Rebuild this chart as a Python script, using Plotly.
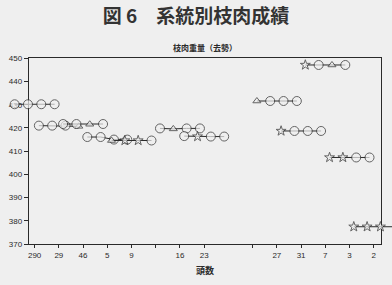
import plotly.graph_objects as go

# ---- data ----
x_labels = ["290", "29", "46", "5", "9", "", "16", "23", None, "", "27", "31", "7", "3", "2"]
group_labels = ["290", "29", "46", "5", "9", "16", "23", "27", "31", "7", "3", "2"]
group_values = [
    [430.2, 430.2, 430.2, 430.2],
    [421.0, 421.0, 421.0, 420.7],
    [421.7, 421.7, 421.6, 421.7],
    [416.1, 416.1, 415.0, 415.0],
    [414.6, 414.6, 414.6, 414.6],
    [419.8, 419.6, 419.8, 419.8],
    [416.5, 416.3, 416.3, 416.3],
    [431.6, 431.6, 431.6, 431.6],
    [418.7, 418.7, 418.7, 418.7],
    [447.1, 447.1, 447.1, 447.1],
    [407.3, 407.3, 407.3, 407.3],
    [377.5, 377.5, 377.5, 377.5],
]
group_kinds = [
    ["o", "o", "o", "o"],
    ["o", "o", "o", "t"],
    ["o", "o", "t", "o"],
    ["o", "o", "o", "o"],
    ["t", "s", "s", "o"],
    ["o", "t", "o", "o"],
    ["o", "s", "o", "o"],
    ["t", "o", "o", "o"],
    ["s", "o", "o", "o"],
    ["s", "o", "t", "o"],
    ["s", "s", "o", "o"],
    ["s", "s", "s", "s"],
]
y_ticks = [370, 380, 390, 400, 410, 420, 430, 440, 450]

# ---- styling / layout constants ----
W, H = 392, 285
PL, PR, PT, PB = 28, 381, 56, 248          # visible plot box in pixels
X_RANGE = [-0.235, 14.3]
Y_RANGE = [370, 450]
BG = "#efefef"
INK = "#2a2a2a"
OFFSETS = [-0.825, -0.275, 0.275, 0.825]
SYM = {"o": "circle", "t": "triangle-up", "s": "star"}
SIZE = {"o": 9, "t": 7, "s": 7.5}

# wide overlay axis with the same scale, so marks may spill past the box
scale = (PR - PL) / (X_RANGE[1] - X_RANGE[0])
X2_RANGE = [X_RANGE[0] - PL / scale, X_RANGE[1] + (W - PR) / scale]

fig = go.Figure()
# anchor trace for the visible axes subplot
fig.add_trace(go.Scatter(x=[None], y=[None], xaxis="x", yaxis="y",
                         showlegend=False, hoverinfo="skip"))
for lab, vals, kinds in zip(group_labels, group_values, group_kinds):
    pos = x_labels.index(lab)
    fig.add_trace(go.Scatter(
        x=[pos + d for d in OFFSETS],
        y=vals,
        xaxis="x2", yaxis="y2",
        mode="lines+markers",
        line=dict(color=INK, width=1),
        marker=dict(
            symbol=[SYM[k] for k in kinds],
            size=[SIZE[k] for k in kinds],
            color=BG,
            line=dict(color=INK, width=1),
        ),
        cliponaxis=False,
        showlegend=False,
        hoverinfo="skip",
    ))

tickvals = [i for i, l in enumerate(x_labels) if l is not None]
ticktext = [l for l in x_labels if l is not None]
ydom = [(H - PB) / H, (H - PT) / H]

fig.update_layout(
    width=W, height=H,
    margin=dict(l=0, r=0, t=0, b=0),
    paper_bgcolor=BG, plot_bgcolor="rgba(0,0,0,0)",
    font=dict(family="Liberation Sans", size=8, color=INK),
    title=dict(
        text="<b>図 6　系統別枝肉成績</b>",
        x=0.5, xanchor="center", xref="container",
        y=1 - 16 / H, yanchor="middle", yref="container",
        font=dict(family="Noto Sans CJK JP", size=19, color="#333"),
    ),
    xaxis=dict(
        domain=[PL / W, PR / W], anchor="y",
        range=X_RANGE,
        tickmode="array", tickvals=tickvals, ticktext=ticktext,
        ticks="outside", ticklen=3, tickwidth=1, tickcolor=INK,
        showgrid=False, zeroline=False,
        showline=True, linecolor=INK, linewidth=1.2, mirror=True,
        tickfont=dict(family="Liberation Sans", size=8, color=INK),
    ),
    yaxis=dict(
        domain=ydom, anchor="x",
        range=Y_RANGE,
        tickmode="array", tickvals=y_ticks,
        ticks="outside", ticklen=4, tickwidth=1, tickcolor=INK,
        showgrid=False, zeroline=False,
        showline=True, linecolor=INK, linewidth=1.2, mirror=True,
        tickfont=dict(family="Liberation Sans", size=8, color=INK),
    ),
    xaxis2=dict(
        domain=[0, 1], anchor="y2", range=X2_RANGE,
        visible=False, showgrid=False, zeroline=False,
    ),
    yaxis2=dict(
        domain=ydom, anchor="x2", range=Y_RANGE,
        visible=False, showgrid=False, zeroline=False,
    ),
    annotations=[
        dict(text="<b>枝肉重量（去勢）</b>", x=(PL + PR) / 2 / W, y=ydom[1],
             xref="paper", yref="paper",
             xanchor="center", yanchor="bottom", yshift=3, showarrow=False,
             font=dict(family="Noto Sans CJK JP", size=8, color=INK)),
        dict(text="<b>頭数</b>", x=(PL + PR) / 2 / W, y=ydom[0],
             xref="paper", yref="paper",
             xanchor="center", yanchor="middle", yshift=-26, showarrow=False,
             font=dict(family="Noto Sans CJK JP", size=9, color=INK)),
    ],
)

fig.write_html("out.html")
